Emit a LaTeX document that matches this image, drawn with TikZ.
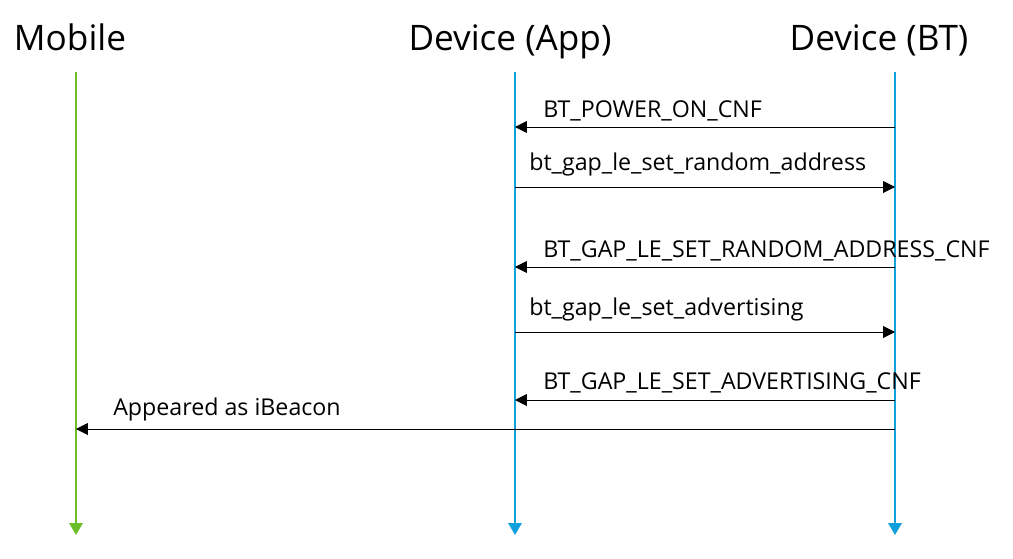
\documentclass[tikz,border=0pt]{standalone}
\usepackage{fontspec}
\setmainfont{Open Sans}
\usetikzlibrary{arrows.meta}

\definecolor{mobgreen}{RGB}{107,190,40}
\definecolor{devblue}{RGB}{16,160,220}

\tikzset{
  head/.style={anchor=base,inner sep=0pt,font=\fontsize{25}{30}\selectfont},
  life/.style={line width=1.4pt,-{Triangle[length=8.5pt,width=9.5pt]}},
  msg/.style={line width=0.7pt,-{Triangle[length=8.5pt,width=8.5pt]}},
  lbl/.style={anchor=base west,inner sep=0pt,font=\fontsize{16.5}{20}\selectfont}
}

\begin{document}
\begin{tikzpicture}[x=0.025cm,y=-0.025cm]
\useasboundingbox (0,0) rectangle (1013,559);

\node[head] (mobile) at (70,50) {Mobile};
\node[head] (app) at (510,50) {Device (App)};
\node[head] (bt) at (879,50) {Device (BT)};

\coordinate (mobile-top) at (76,72);
\coordinate (mobile-end) at (76,535);
\coordinate (app-top) at (515,72);
\coordinate (app-end) at (515,535);
\coordinate (bt-top) at (895,72);
\coordinate (bt-end) at (895,535);

\draw[life,draw=mobgreen,fill=mobgreen] (mobile-top) -- (mobile-end);
\draw[life,draw=devblue,fill=devblue] (app-top) -- (app-end);
\draw[life,draw=devblue,fill=devblue] (bt-top) -- (bt-end);

% message points on the lifelines
\foreach \n/\y in {1/127,2/187,3/267,4/332,5/400,6/429}{
  \coordinate (m\n) at (76,\y);
  \coordinate (a\n) at (515,\y);
  \coordinate (b\n) at (895,\y);
}

\draw[msg] (b1) -- (a1);
\draw[msg] (a2) -- (b2);
\draw[msg] (b3) -- (a3);
\draw[msg] (a4) -- (b4);
\draw[msg] (b5) -- (a5);
\draw[msg] (b6) -- (m6);

\node[lbl] (l1) at (543,117) {BT\_POWER\_ON\_CNF};
\node[lbl] (l2) at (529,170) {bt\_gap\_le\_set\_random\_address};
\node[lbl] (l3) at (543,257) {BT\_GAP\_LE\_SET\_RANDOM\_ADDRESS\_CNF};
\node[lbl] (l4) at (529,315) {bt\_gap\_le\_set\_advertising};
\node[lbl] (l5) at (543,389) {BT\_GAP\_LE\_SET\_ADVERTISING\_CNF};
\node[lbl] (l6) at (113,415) {Appeared as iBeacon};
\end{tikzpicture}
\end{document}
